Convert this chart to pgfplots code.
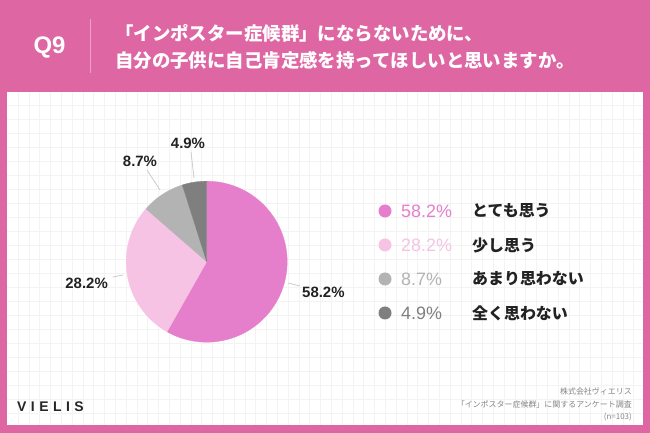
\documentclass[border=0pt]{standalone}
\usepackage{pgfplots}
\pgfplotsset{compat=1.18}
\usepackage{fontspec}
\setmainfont{Liberation Sans}
\newfontfamily\jp{Noto Sans CJK JP}
\newfontfamily\logofont[LetterSpace=32]{Liberation Sans}
\definecolor{bgpink}{HTML}{DE67A3}
\definecolor{pieA}{HTML}{E57FCC}
\definecolor{pieB}{HTML}{F6C3E5}
\definecolor{pieC}{HTML}{B3B3B3}
\definecolor{pieD}{HTML}{7F7F7F}
\definecolor{gridc}{HTML}{F3F3F3}
\definecolor{sepc}{HTML}{EDA0C8}
\definecolor{txt}{HTML}{222222}
\definecolor{srcc}{HTML}{858585}
\definecolor{leader}{HTML}{CCCCCC}
% survey shares (%)
\def\vA{58.2}\def\vB{28.2}\def\vC{8.7}\def\vD{4.9}
\begin{document}
\begin{tikzpicture}[x=1bp,y=1bp]
\pgfmathsetmacro{\aA}{90-3.6*\vA}
\pgfmathsetmacro{\aB}{\aA-3.6*\vB}
\pgfmathsetmacro{\aC}{\aB-3.6*\vC}
\pgfmathsetmacro{\aD}{\aC-3.6*\vD}
\useasboundingbox (0,0) rectangle (650,433);
\fill[bgpink] (0,0) rectangle (650,433);
\fill[white] (7.3,8) rectangle (642.5,341);
\foreach \k in {1,...,58} {\draw[gridc, line width=0.8bp] ({7.3+10.8*\k},8) -- ({7.3+10.8*\k},341);}
\foreach \k in {0,...,22} {\draw[gridc, line width=0.8bp] (7.3,{328-14*\k}) -- (642.5,{328-14*\k});}
% header
\node[white, font=\bfseries\fontsize{24}{24}\selectfont] at (49.5,385) {Q9};
\draw[sepc, line width=1bp] (90,360) -- (90,414);
\node[white, anchor=west, inner sep=0pt, font=\jp\bfseries\fontsize{18.5}{18.5}\selectfont] at (115,400) {「インポスター症候群」にならないために、};
\node[white, anchor=west, inner sep=0pt, font=\jp\bfseries\fontsize{18.5}{18.5}\selectfont] at (115,373) {自分の子供に自己肯定感を持ってほしいと思いますか。};
% pie
\begin{axis}[at={(206.7,171.3)}, anchor=center, hide axis, scale only axis,
  width=200bp, height=200bp, xmin=-100, xmax=100, ymin=-100, ymax=100,
  clip=false, samples=80]
\addplot[draw=pieA, line width=0.3bp, fill=pieA, domain=\aA:90] ({80.5*cos(x)},{80.5*sin(x)}) -- (axis cs:0,0) -- cycle;
\addplot[draw=pieB, line width=0.3bp, fill=pieB, domain=\aB:\aA] ({80.5*cos(x)},{80.5*sin(x)}) -- (axis cs:0,0) -- cycle;
\addplot[draw=pieC, line width=0.3bp, fill=pieC, domain=\aC:\aB, samples=20] ({80.5*cos(x)},{80.5*sin(x)}) -- (axis cs:0,0) -- cycle;
\addplot[draw=pieD, line width=0.3bp, fill=pieD, domain=\aD:\aC, samples=20] ({80.5*cos(x)},{80.5*sin(x)}) -- (axis cs:0,0) -- cycle;
\addplot[leader, line width=0.8bp] coordinates {(81.3,-21.3) (93.3,-24.3)};
\addplot[leader, line width=0.8bp] coordinates {(-83.7,-13.3) (-93.7,-15.3)};
\addplot[leader, line width=0.8bp] coordinates {(-46.7,71.7) (-59.7,91.7)};
\addplot[leader, line width=0.8bp] coordinates {(-12.7,83.7) (-15.7,109.7)};
\node[txt, anchor=west, inner sep=0pt, font=\bfseries\fontsize{15}{15}\selectfont] at (axis cs:95.3,-30.3) {58.2\%};
\node[txt, anchor=east, inner sep=0pt, font=\bfseries\fontsize{15}{15}\selectfont] at (axis cs:-98.7,-21.3) {28.2\%};
\node[txt, inner sep=0pt, font=\bfseries\fontsize{15}{15}\selectfont] at (axis cs:-66.7,100.7) {8.7\%};
\node[txt, inner sep=0pt, font=\bfseries\fontsize{15}{15}\selectfont] at (axis cs:-18.7,118.7) {4.9\%};
\end{axis}
% legend
\fill[pieA] (385,222) circle (6.5);
\fill[pieB] (385,188) circle (6.5);
\fill[pieC] (385,154) circle (6.5);
\fill[pieD] (385,120) circle (6.5);
\node[pieA, anchor=west, inner sep=0pt, font=\fontsize{18}{18}\selectfont] at (401,222) {58.2\%};
\node[pieB, anchor=west, inner sep=0pt, font=\fontsize{18}{18}\selectfont] at (401,188) {28.2\%};
\node[pieC, anchor=west, inner sep=0pt, font=\fontsize{18}{18}\selectfont] at (401,154) {8.7\%};
\node[pieD, anchor=west, inner sep=0pt, font=\fontsize{18}{18}\selectfont] at (401,120) {4.9\%};
\node[txt, anchor=west, inner sep=0pt, font=\jp\bfseries\fontsize{16}{16}\selectfont] at (472,222) {とても思う};
\node[txt, anchor=west, inner sep=0pt, font=\jp\bfseries\fontsize{16}{16}\selectfont] at (472,188) {少し思う};
\node[txt, anchor=west, inner sep=0pt, font=\jp\bfseries\fontsize{16}{16}\selectfont] at (472,154) {あまり思わない};
\node[txt, anchor=west, inner sep=0pt, font=\jp\bfseries\fontsize{16}{16}\selectfont] at (472,120) {全く思わない};
% footer
\node[anchor=west, inner sep=0pt, text=black!85, font=\logofont\bfseries\fontsize{14}{14}\selectfont] at (17,26) {VIELIS};
\node[anchor=east, inner sep=0pt, text=srcc, font=\jp\fontsize{8}{8}\selectfont] at (632,42) {株式会社ヴィエリス};
\node[anchor=east, inner sep=0pt, text=srcc, font=\jp\fontsize{8}{8}\selectfont] at (632,29) {「インポスター症候群」に関するアンケート調査};
\node[anchor=east, inner sep=0pt, text=srcc, font=\jp\fontsize{8}{8}\selectfont] at (632,16) {(n=103)};
\end{tikzpicture}
\end{document}
